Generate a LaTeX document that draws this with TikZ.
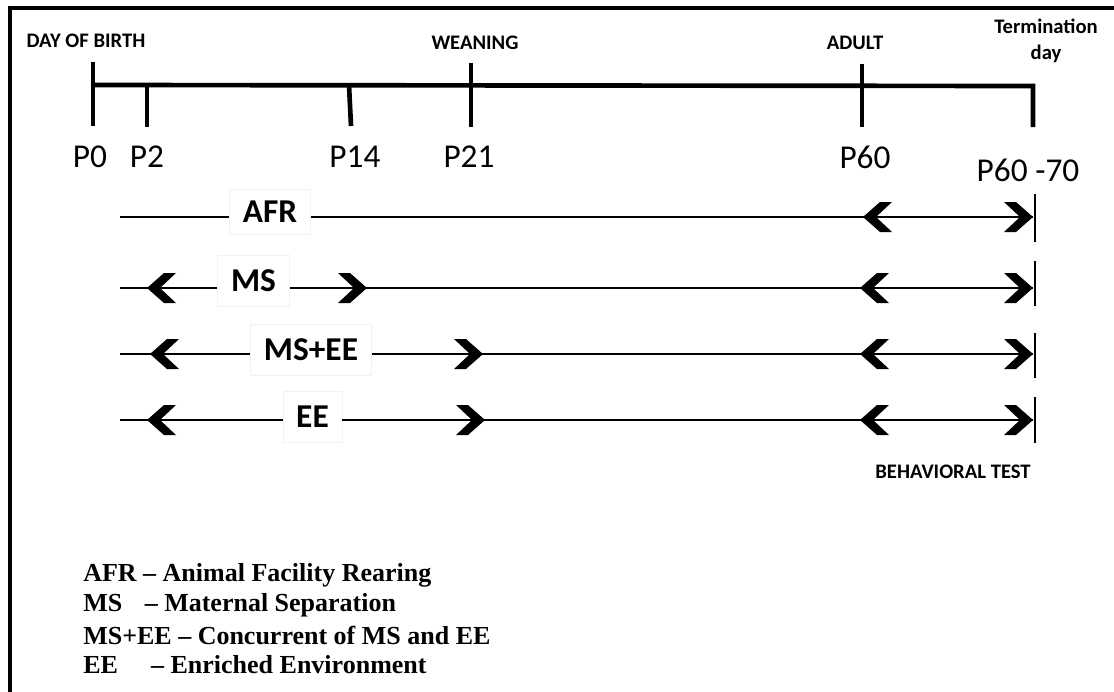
\documentclass[tikz,border=0pt]{standalone}
\usepackage{fontspec}
\newfontfamily\calibri{Carlito}
\newfontfamily\tnr{Liberation Serif}
\begin{document}
\begin{tikzpicture}[x=0.75pt,y=-0.75pt,
 tl/.style={line width=3.5pt},
 rowline/.style={line width=1.3pt},
 endbar/.style={line width=2.2pt},
 toplab/.style={font=\calibri\bfseries\fontsize{15.5}{19}\selectfont, align=center, inner sep=0pt},
 plab/.style={font=\calibri\fontsize{25}{29}\selectfont, inner sep=0pt},
 rlab/.style={font=\calibri\bfseries\fontsize{25}{29}\selectfont, fill=white, draw=black!5, line width=0.4pt, inner xsep=10pt, inner ysep=0pt, minimum height=38pt},
 leg/.style={font=\tnr\bfseries\fontsize{19.5}{23}\selectfont, anchor=west, inner sep=0pt},
 chevL/.pic={\fill (0,0) -- (17,-15) -- (29,-15) -- (13,0) -- (29,15) -- (17,15) -- cycle;},
 chevR/.pic={\fill (0,0) -- (-17,-15) -- (-29,-15) -- (-13,0) -- (-29,15) -- (-17,15) -- cycle;}
]
\useasboundingbox (0,0) rectangle (1114,692);
\fill[white] (0,0) rectangle (1114,692);
% frame (left and top edges visible)
\coordinate (fbl) at (10,700);
\coordinate (ftl) at (10,8);
\coordinate (ftr) at (1120,8);
\draw[line width=3pt] (fbl) -- (ftl) -- (ftr);

% main timeline
\coordinate (t0) at (93,85);
\coordinate (tend) at (1033,86);
\coordinate (tendb) at (1033,127);
\draw[tl] (t0) -- (tend) -- (tendb);
\coordinate (p0t) at (93,62);   \coordinate (p0b) at (93,126);
\coordinate (p2t) at (147,85);  \coordinate (p2b) at (147,127);
\coordinate (p14t) at (349,85); \coordinate (p14b) at (351,126);
\coordinate (p21t) at (471,63); \coordinate (p21b) at (471,127);
\coordinate (p60t) at (862,64); \coordinate (p60b) at (862,127);
\draw[tl] (p0t) -- (p0b);
\draw[tl] (p2t) -- (p2b);
\draw[tl] (p14t) -- (p14b);
\draw[tl] (p21t) -- (p21b);
\draw[tl] (p60t) -- (p60b);

% top labels
\node[toplab] (dob) at (86,41) {DAY OF BIRTH};
\node[toplab] (wean) at (475,43) {WEANING};
\node[toplab] (adult) at (855,43) {ADULT};
\node[toplab] (term) at (1046,41) {Termination\\day};

% P labels
\node[plab] (lp0) at (90,157) {P0};
\node[plab] (lp2) at (147,157) {P2};
\node[plab] (lp14) at (355,157) {P14};
\node[plab] (lp21) at (469,157) {P21};
\node[plab] (lp60) at (865,157) {P60};
\node[plab] (lp6070) at (1028,170) {P60 -70};

% row coordinates
\coordinate (r1s) at (120,217); \coordinate (r1e) at (1033,217);
\coordinate (r2s) at (120,288); \coordinate (r2e) at (1033,288);
\coordinate (r3s) at (120,354); \coordinate (r3e) at (1033,354);
\coordinate (r4s) at (120,420); \coordinate (r4e) at (1033,420);

% row labels
\node[rlab, minimum height=34pt] (afr) at (270,212) {AFR};
\node[rlab] (ms) at (253.5,281) {MS};
\node[rlab] (msee) at (311,349.5) {MS+EE};
\node[rlab] (ee) at (312.5,417) {EE};

% row lines
\draw[rowline] (r1s) -- (r1s -| afr.west);
\draw[rowline] (afr.east |- r1s) -- (r1e);
\draw[rowline] (r2s) -- (r2s -| ms.west);
\draw[rowline] (ms.east |- r2s) -- (r2e);
\draw[rowline] (r3s) -- (r3s -| msee.west);
\draw[rowline] (msee.east |- r3s) -- (r3e);
\draw[rowline] (r4s) -- (r4s -| ee.west);
\draw[rowline] (ee.east |- r4s) -- (r4e);

% end bars
\coordinate (b1t) at (1035,194); \coordinate (b1b) at (1035,242);
\coordinate (b2t) at (1035,261); \coordinate (b2b) at (1035,306);
\coordinate (b3t) at (1035,333); \coordinate (b3b) at (1035,378);
\coordinate (b4t) at (1035,397); \coordinate (b4b) at (1035,443);
\draw[endbar] (b1t) -- (b1b);
\draw[endbar] (b2t) -- (b2b);
\draw[endbar] (b3t) -- (b3b);
\draw[endbar] (b4t) -- (b4b);

% chevrons
\pic at (863,217) {chevL};
\pic at (1033,217) {chevR};
\pic at (147,288) {chevL};
\pic at (367,288) {chevR};
\pic at (860,288) {chevL};
\pic at (1033,288) {chevR};
\pic at (150,354) {chevL};
\pic at (483,354) {chevR};
\pic at (860,354) {chevL};
\pic at (1033,354) {chevR};
\pic at (147,420) {chevL};
\pic at (485,420) {chevR};
\pic at (860,420) {chevL};
\pic at (1033,420) {chevR};

\node[toplab, font=\calibri\bfseries\fontsize{15.5}{18}\selectfont] (beh) at (953,472) {BEHAVIORAL TEST};

% legend
\node[leg] (l1) at (83,575) {AFR – Animal Facility Rearing};
\node[leg] (l2) at (83,605) {MS\hspace{12pt} – Maternal Separation};
\node[leg] (l3) at (83,635) {MS+EE – Concurrent of MS and EE};
\node[leg] (l4) at (83,665) {EE\hspace{20pt} – Enriched Environment};
\end{tikzpicture}
\end{document}
